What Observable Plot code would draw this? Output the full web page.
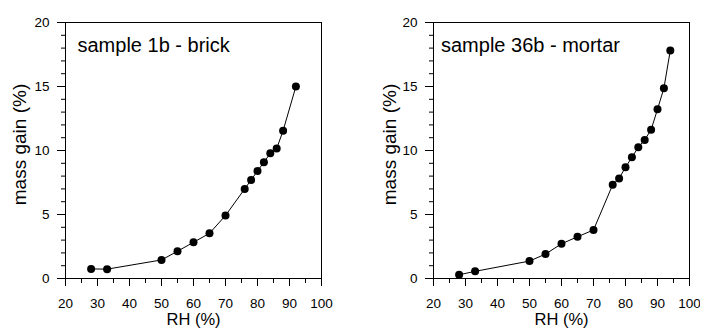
<!DOCTYPE html>
<html>
<head>
<meta charset="utf-8">
<script src="https://cdn.jsdelivr.net/npm/d3@7"></script>
<script src="https://cdn.jsdelivr.net/npm/@observablehq/plot@0.6"></script>
<style>
  body { margin: 0; background: white; }
  #wrap { display: flex; flex-direction: row; width: 701px; height: 329px; }
</style>
</head>
<body>
<div id="wrap"></div>
<script>
// ---- data ----
const brickRH   = [28, 33, 50, 55, 60, 65, 70, 76, 78, 80, 82, 84, 86, 88, 92];
const brickGain = [0.75, 0.73, 1.45, 2.13, 2.83, 3.53, 4.92, 7.0, 7.7, 8.4, 9.08, 9.78, 10.15, 11.55, 15.0];

const mortarRH   = [28, 33, 50, 55, 60, 65, 70, 76, 78, 80, 82, 84, 86, 88, 90, 92, 94];
const mortarGain = [0.29, 0.56, 1.36, 1.91, 2.71, 3.26, 3.79, 7.33, 7.82, 8.69, 9.47, 10.25, 10.83, 11.62, 13.22, 14.87, 17.82];

const panelTitles = ["sample 1b - brick", "sample 36b - mortar"];
const xLabel = "RH (%)";
const yLabel = "mass gain (%)";
const xMajorTicks = [20, 30, 40, 50, 60, 70, 80, 90, 100];
const xMinorTicks = [25, 35, 45, 55, 65, 75, 85, 95];
const yMajorTicks = [0, 5, 10, 15, 20];
const yMinorTicks = [1, 2, 3, 4, 6, 7, 8, 9, 11, 12, 13, 14, 16, 17, 18, 19];

const FONT = "'Liberation Sans', Arial, Helvetica, sans-serif";

function panel(rh, gain, title, ml, mr, ylabDx, titleDx) {
  const data = rh.map((x, i) => ({x, y: gain[i]}));
  return Plot.plot({
    width: 350,
    height: 329,
    marginLeft: ml,
    marginRight: mr,
    marginTop: 22,
    marginBottom: 51,
    style: {fontFamily: FONT, fontSize: "13.5px", color: "black", background: "white"},
    x: {domain: [20, 100]},
    y: {domain: [0, 20]},
    marks: [
      Plot.frame({stroke: "black", strokeWidth: 1}),
      Plot.axisX(xMajorTicks, {tickSize: 8, tickPadding: 12, label: null, tickFormat: d => String(d), fontSize: 13.5}),
      Plot.axisX(xMinorTicks, {tickSize: 5, text: null, label: null}),
      Plot.axisY(yMajorTicks, {tickSize: 8, tickPadding: 8, label: null, tickFormat: d => String(d), fontSize: 13.5}),
      Plot.axisY(yMinorTicks, {tickSize: 4, text: null, label: null}),
      Plot.line(data, {x: "x", y: "y", stroke: "black", strokeWidth: 1}),
      Plot.dot(data, {x: "x", y: "y", r: 4, fill: "black", stroke: "none"}),
      Plot.text([title], {frameAnchor: "top-left", text: d => d, dx: titleDx, dy: 14.8, textAnchor: "start", lineAnchor: "top", fontSize: 20, fill: "black"}),
      Plot.text([xLabel], {frameAnchor: "bottom", text: d => d, dy: 34.5, lineAnchor: "top", fontSize: 16.5, fill: "black"}),
      Plot.text([yLabel], {frameAnchor: "left", text: d => d, dx: ylabDx, dy: -6, rotate: -90, lineAnchor: "top", textAnchor: "middle", fontSize: 19, fill: "black"})
    ]
  });
}

const wrap = document.getElementById("wrap");
wrap.appendChild(panel(brickRH, brickGain, panelTitles[0], 65, 29, -53, 12));
wrap.appendChild(panel(mortarRH, mortarGain, panelTitles[1], 83, 11, -51, 7.5));
</script>
</body>
</html>
